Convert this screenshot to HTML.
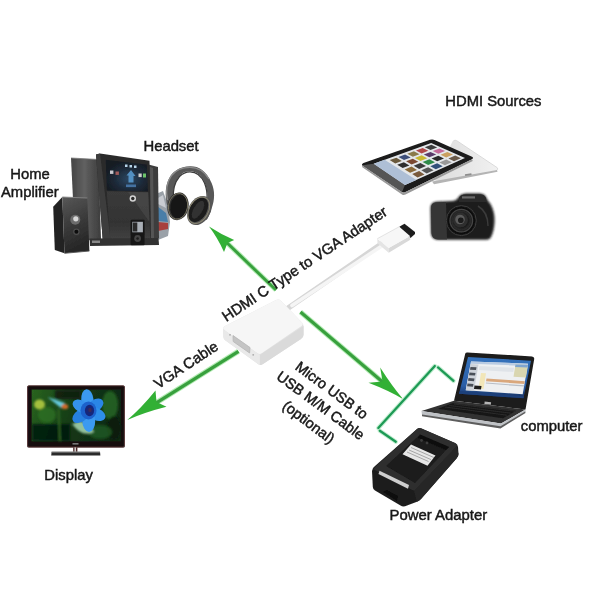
<!DOCTYPE html>
<html><head><meta charset="utf-8">
<style>
html,body{margin:0;padding:0;background:#fff;}
body{width:600px;height:600px;overflow:hidden;}
svg{display:block;}
text{font-family:"Liberation Sans",sans-serif;fill:#161616;}
</style></head><body>
<svg width="600" height="600" viewBox="0 0 600 600">
<defs>
<filter id="b1" x="-10%" y="-10%" width="120%" height="120%"><feGaussianBlur stdDeviation="0.55"/></filter>
<filter id="b2" x="-10%" y="-10%" width="120%" height="120%"><feGaussianBlur stdDeviation="1.1"/></filter>
<filter id="b3" x="-20%" y="-20%" width="140%" height="140%"><feGaussianBlur stdDeviation="2.2"/></filter>
<filter id="bt" x="-5%" y="-5%" width="110%" height="110%"><feGaussianBlur stdDeviation="0.35"/></filter>
<linearGradient id="gAmp" x1="0" y1="0" x2="1" y2="0"><stop offset="0" stop-color="#454545"/><stop offset="0.45" stop-color="#606060"/><stop offset="1" stop-color="#3c3c3c"/></linearGradient>
<linearGradient id="gAmp2" x1="0" y1="0" x2="0" y2="1"><stop offset="0" stop-color="#3a3a3a"/><stop offset="0.6" stop-color="#333"/><stop offset="1" stop-color="#444"/></linearGradient>
<linearGradient id="gSpk" x1="0" y1="0" x2="0.25" y2="1"><stop offset="0" stop-color="#585858"/><stop offset="0.5" stop-color="#3c3c3c"/><stop offset="1" stop-color="#262626"/></linearGradient>
<radialGradient id="gScr" cx="0.55" cy="0.6" r="0.6"><stop offset="0" stop-color="#2c4763"/><stop offset="0.6" stop-color="#1c2836"/><stop offset="1" stop-color="#161b22"/></radialGradient>
<linearGradient id="gTab" x1="0" y1="0" x2="1" y2="0"><stop offset="0" stop-color="#dcdcdc"/><stop offset="1" stop-color="#f1f1f1"/></linearGradient>
<radialGradient id="gLens" cx="0.5" cy="0.5" r="0.5"><stop offset="0" stop-color="#3a3a3a"/><stop offset="0.35" stop-color="#101010"/><stop offset="0.6" stop-color="#2c2c2c"/><stop offset="0.8" stop-color="#0c0c0c"/><stop offset="1" stop-color="#1d1d1d"/></radialGradient>
<linearGradient id="gTv" x1="0" y1="0" x2="1" y2="0.2"><stop offset="0" stop-color="#2a6420"/><stop offset="0.3" stop-color="#1c4c1a"/><stop offset="0.6" stop-color="#133616"/><stop offset="1" stop-color="#0e2a12"/></linearGradient>
<radialGradient id="gFl" cx="0.5" cy="0.5" r="0.5"><stop offset="0" stop-color="#1c3f9a"/><stop offset="0.45" stop-color="#2f86e0"/><stop offset="0.85" stop-color="#4aa3ee"/><stop offset="1" stop-color="#4aa3ee" stop-opacity="0"/></radialGradient>
<linearGradient id="gLap" x1="0" y1="0" x2="0" y2="1"><stop offset="0" stop-color="#3573bd"/><stop offset="0.7" stop-color="#2a5da6"/><stop offset="1" stop-color="#16305e"/></linearGradient>
<linearGradient id="gPa" x1="0" y1="0" x2="1" y2="1"><stop offset="0" stop-color="#3a3a3a"/><stop offset="1" stop-color="#1c1c1c"/></linearGradient>
</defs>
<rect width="600" height="600" fill="#fff"/>

<!-- ARROWS -->
<g id="arrows" filter="url(#b1)">
 <g stroke="#b4ecb4" fill="none" stroke-linecap="butt">
  <line x1="276" y1="290" x2="222" y2="238" stroke-width="5"/>
  <line x1="238.500" y1="351.300" x2="150" y2="406.800" stroke-width="5.400"/>
  <line x1="300.500" y1="312" x2="392" y2="390" stroke-width="5"/>
 </g>
 <g stroke="#38a03e" fill="none" stroke-linecap="butt">
  <line x1="276" y1="290" x2="222" y2="238" stroke-width="2.900"/>
  <line x1="238.500" y1="351.300" x2="150" y2="406.800" stroke-width="3.300"/>
  <line x1="300.500" y1="312" x2="392" y2="390" stroke-width="3"/>
 </g>
 <g fill="#33b035">
  <path d="M209.0 226.5 Q220.1 233.9 234.2 240.0 L227.5 243.0 L224.0 252.0 Q217.3 237.2 209.0 226.5 Z"/>
  <path d="M127.3 420.0 Q141.6 407.8 155.5 390.5 L156.5 402.0 L166.5 406.8 Q144.7 412.3 127.3 420.0 Z"/>
  <path d="M403.2 399.2 Q392.2 386.5 380.2 367.5 L382.5 381.5 L368.5 382.8 Q389.0 390.7 403.2 399.2 Z"/>
 </g>
 <g stroke="#c4eed2" stroke-width="4.400" fill="none" stroke-linecap="round">
  <line x1="378.300" y1="428" x2="434.800" y2="366"/>
  <line x1="438" y1="367.400" x2="453.500" y2="380.800"/>
  <line x1="379.800" y1="430.700" x2="395.800" y2="441.700"/>
 </g>
 <g stroke="#1f9a55" stroke-width="2.300" fill="none" stroke-linecap="round">
  <line x1="378.300" y1="428" x2="434.800" y2="366"/>
  <line x1="438" y1="367.400" x2="453.500" y2="380.800"/>
  <line x1="379.800" y1="430.700" x2="395.800" y2="441.700"/>
 </g>
</g>

<!-- HDMI-VGA ADAPTER -->
<g id="adapter" filter="url(#b1)">
 <path d="M286 309.500 L382 243.500" stroke="#d6d6d6" stroke-width="5.200" fill="none" stroke-linecap="round"/>
 <path d="M292 305.5 L384 244.5" stroke="#f5f5f5" stroke-width="3.6" fill="none" stroke-linecap="round"/>
 <path d="M399.300 226.700 L404.500 223.800 L415 232 L415 234 L410.500 238 L399.300 229 Z" fill="#1c1c1c"/>
 <path d="M377.300 238.700 L388.700 248 L388.700 252.800 L377.500 243.200 Z" fill="#e4e4e4"/>
 <path d="M388.700 248 L410 236 L410.300 239.800 L388.700 252.800 Z" fill="#d9d9d9"/>
 <path d="M377.300 238.700 L399.300 226.700 L410 236 L388.700 248 Z" fill="#f7f7f7"/>
 <path d="M377.300 238.700 L399.300 226.700" stroke="#dcdcdc" stroke-width="0.800" fill="none"/>
 <!-- box -->
 <path d="M223.2 329 Q223 327 225 326 L276 300 Q278.7 298.6 281 300.8 L302 322.5 Q303.5 324 303.5 326 L303.5 335 Q303.5 337.5 301 339 L263 364 Q260.4 365.8 258 364 L225.5 340.5 Q223.5 339 223.4 337 Z" fill="#e2e2e2"/>
 <path d="M223.2 328.5 Q223 327 225 326 L276 300 Q278.7 298.6 281 300.8 L302 322.5 Q303.8 324.3 301.5 326 L262 353 Q259.5 354.8 257.5 353.3 L225 330.5 Z" fill="#f6f6f6"/>
 <path d="M259.8 355 L303.5 326 L303.5 335 Q303.5 337.5 301 339 L263 364 Q261 365.3 259.8 365 Z" fill="#dadada"/>
 <path d="M223.3 329.5 L259.8 355 L259.8 365 Q258.5 364.5 258 364 L225.5 340.5 Q223.5 339 223.4 337 Z" fill="#e9e9e9"/>
 <path d="M233 335.5 L250 347.5 L249.6 353 L233.2 341.5 Z" fill="#c4c4c4" stroke="#b5b5b5" stroke-width="0.8"/>
 <circle cx="230" cy="334.8" r="0.9" fill="#aaa"/><circle cx="253.2" cy="354.8" r="0.9" fill="#aaa"/>
</g>

<!-- HOME AMPLIFIER -->
<g id="amp" filter="url(#b1)">
 <!-- disc / colourful thing right -->
 <path d="M156 194 L163 191 L168 205 L170 222 L168 236 L158 240 Z" fill="#9aa1a8"/>
 <path d="M157 206 L166 213 L168 222 L158 221 Z" fill="#4a7ea8"/>
 <path d="M158 222 L168 223 L168 229 L158 231 Z" fill="#a8413e"/>
 <path d="M158 198 L163 195 L166 208 L158 204 Z" fill="#c9ccd2"/>
 <!-- right thin panel -->
 <path d="M148.500 164.500 L158 167 L159 238 L150 241 Z" fill="#3e3e3e"/>
 <path d="M150 167 L153 168 L154 238 L151 239 Z" fill="#555"/>
 <!-- left speaker panel -->
 <path d="M71 158 L98.500 159.500 L101 240 L75 240.500 Z" fill="url(#gAmp)"/>
 <path d="M71 158 L98.500 159.500" stroke="#777" stroke-width="0.8"/>
 <!-- main unit -->
 <path d="M96 154.500 L100 153.600 L149.500 160.800 L151 243 L108 245 L103 243 Z" fill="#2b2b2b"/>
 <path d="M96 154.500 L100 153.600 L111 243.500 L103 243 Z" fill="#3d3d3d"/>
 <path d="M105.700 159.700 L146.800 164.500 L148 191.600 L106.800 190.500 Z" fill="url(#gScr)"/>
 <path d="M106.800 191.300 L148.200 192.300 L150.500 242.500 L110.500 243.500 Z" fill="url(#gAmp2)"/>
 <path d="M128 192 L148.200 192.300 L149.500 222 Z" fill="#555" opacity="0.45"/>
 <circle cx="132.800" cy="198.500" r="3.200" fill="#d5d5d5"/><circle cx="132.800" cy="198.500" r="1.700" fill="#2a2a2a"/>
 <g filter="url(#bt)">
  <rect x="110" y="170.500" width="3.400" height="3.400" fill="#c9c9d0"/><rect x="115.500" y="171.500" width="3.400" height="3.400" fill="#a05a5a"/>
  <rect x="125" y="164.500" width="2.500" height="2.500" fill="#b8d6ea"/><rect x="129.500" y="165" width="2.500" height="2.500" fill="#b8d6ea"/><rect x="134" y="165.500" width="2.500" height="2.500" fill="#b8d6ea"/>
  <path d="M126.500 175.500 L131 170 L135.500 176 L133.500 176 L133.500 182.500 L128.500 182.500 L128.500 175.500 Z" fill="#5a9fd6" opacity="0.85"/>
  <rect x="126" y="184.500" width="10" height="2.600" fill="#4a7cb0" opacity="0.85"/>
  <rect x="138.500" y="173.500" width="3.200" height="3.600" fill="#d0d0d0"/>
  <rect x="143" y="173.500" width="3" height="4" fill="#6cc46a"/>
 </g>
 <!-- base -->
 <path d="M89.500 238.500 L158.500 238 L159 245 L90 246 Z" fill="#333"/>
 <path d="M92 240.500 L100 240.500 L100 243 L92 243 Z" fill="#888"/>
 <!-- ipod dock -->
 <rect x="130.600" y="219.800" width="14" height="25.500" rx="1.200" fill="#151515"/>
 <rect x="132.300" y="221.800" width="10.600" height="10.500" fill="#a9afb6"/>
 <rect x="132.800" y="222.500" width="4.500" height="9" fill="#2b2b2b"/>
 <circle cx="137.600" cy="238.500" r="3.400" fill="#444"/><circle cx="137.600" cy="238.500" r="1.300" fill="#1c1c1c"/>
 <!-- small speaker -->
 <path d="M62.300 197 L53.200 206.800 L54.800 250 L64.500 253.300 Z" fill="#242424"/>
 <path d="M62.300 197 L87.300 198 L89.400 251 L64.500 253.300 Z" fill="url(#gSpk)"/>
 <path d="M62.300 197 L87.300 198" stroke="#858585" stroke-width="0.9"/>
 <path d="M64.500 253.300 L89.400 251" stroke="#555" stroke-width="0.9"/>
 <circle cx="75.300" cy="219.800" r="5" fill="#6c6c6c"/><circle cx="75.800" cy="218.800" r="2.600" fill="#d8d8d8"/>
 <circle cx="76.400" cy="231.700" r="3.200" fill="#4d4d4d"/><circle cx="76.400" cy="231.700" r="2" fill="#0e0e0e"/>
</g>

<!-- HEADSET -->
<g id="headset" filter="url(#b1)">
 <path d="M167 205 C165 196 165 186 169.200 178.300 C173 171 180 166.800 190 166.300 C198 166 206 170 211.700 183.300 C215 191 214.800 200 211.700 208.300 C210.500 212.500 208.500 217 206.700 220 L202 214 C206 208 207.800 203 207.500 196 C207.200 188 204.500 180 200 175.500 C197 172.500 193.500 171.300 190 171.300 C186 171.300 183.500 172.200 181 174.500 C177 178.500 175.200 183 173.800 189 C172.800 194 173 199 174 203 Z" fill="#585858"/>
 <path d="M167.500 200 C165.500 190 167.500 181 171.500 175.500 C176 169.500 183 167.300 190 167.300 C197 167.300 204 170.500 209 179" fill="none" stroke="#8c8c8c" stroke-width="1.300"/>
 <path d="M173.500 198 C172.800 190 175 182 179.500 176.500 C183 172.800 187 171.800 190 171.800 C196 171.800 201 175 204.500 183 C206.500 188 207.300 194 207 199" fill="none" stroke="#3a3a3a" stroke-width="1.200"/>
 <g transform="translate(178,206.300) rotate(10)"><ellipse rx="10.600" ry="14" fill="#303030"/><ellipse rx="8.300" ry="11.800" cx="0.800" fill="#131313"/><ellipse rx="9.500" ry="13" fill="none" stroke="#77735f" stroke-width="0.900"/></g>
 <g transform="translate(199.300,210.500) rotate(30)"><ellipse rx="11" ry="15.500" fill="#555"/><ellipse rx="8.600" ry="13.200" cx="-1.200" fill="#1b1b1b"/><ellipse rx="4.500" ry="10" cx="-1.500" fill="#303030"/><ellipse rx="9.600" ry="14.200" cx="-0.600" fill="none" stroke="#8b8772" stroke-width="0.900"/></g>
</g>

<!-- TABLETS -->
<g id="tablets" filter="url(#b1)">
 <path d="M433 180 L452.500 141.500 Q454 139.500 456.500 140.500 L497 167.500 Q499 169.300 496.500 170.300 L440 181.800 Z" fill="url(#gTab)"/>
 <path d="M453.500 140.800 Q455 139.800 456.500 140.500 L497 167.500 Q499 169.300 496.500 170.300" fill="none" stroke="#d4d4d4" stroke-width="0.8"/>
 <path d="M432 181.500 L497 170 L497.500 171.800 L434 184.200 Z" fill="#b4b4b4"/>
 <rect x="465" y="173.800" width="6.500" height="1.800" fill="#8d8d8d" transform="rotate(-10 468 174.700)"/>
 <path d="M362 165.300 Q361.500 163.800 363.500 163 L430 139.800 Q432.500 139 434.500 140 L472 156.800 Q474 158 472 159.300 L405.500 192 Q403.500 193 402 192 Z" fill="#1a1a1a"/>
 <path d="M362 165.300 L373.700 163.700 L405 185 L402 192 Z" fill="#555"/>
 <path d="M362 165.300 L402 192 Q403.500 193 405.500 192 L472 159.300 L472.800 161 L405.500 194.600 Q403.500 195.500 402 194.400 L362.300 167.300 Z" fill="#9a9a9a"/>
 <path d="M373.700 163.700 L431.200 143 L465 158 L405 185 Z" fill="#e4e7ea"/>
 <path d="M373.7 163.7 L384.6 159.8 L416.4 179.9 L405.0 185.0 Z" fill="#aebfd6"/>
 <g filter="url(#bt)">
 <path d="M389.7 160.1 L396.4 157.7 L401.8 160.9 L395.2 163.5 Z" fill="#6b5a3c"/>
 <path d="M398.5 156.9 L405.1 154.5 L410.7 157.6 L404.0 160.1 Z" fill="#3c4f7a"/>
 <path d="M407.3 153.7 L413.9 151.3 L419.5 154.2 L412.8 156.7 Z" fill="#8a7a4a"/>
 <path d="M416.0 150.5 L422.7 148.0 L428.3 150.8 L421.6 153.4 Z" fill="#b0484a"/>
 <path d="M424.8 147.3 L431.4 144.8 L437.2 147.4 L430.5 150.0 Z" fill="#3c3c3c"/>
 <path d="M397.2 164.8 L403.9 162.2 L409.4 165.4 L402.7 168.1 Z" fill="#2e2e2e"/>
 <path d="M406.1 161.3 L412.8 158.7 L418.3 161.8 L411.6 164.5 Z" fill="#7a4a30"/>
 <path d="M414.9 157.9 L421.6 155.3 L427.2 158.2 L420.5 160.9 Z" fill="#c8b832"/>
 <path d="M423.8 154.5 L430.5 151.9 L436.2 154.6 L429.4 157.3 Z" fill="#5a3a6a"/>
 <path d="M432.7 151.0 L439.4 148.4 L445.1 151.0 L438.3 153.7 Z" fill="#c46a9a"/>
 <path d="M404.7 169.4 L411.5 166.6 L417.0 169.9 L410.1 172.8 Z" fill="#8a6a3a"/>
 <path d="M413.7 165.8 L420.4 163.0 L426.0 166.1 L419.2 169.0 Z" fill="#3a3a3a"/>
 <path d="M422.6 162.1 L429.4 159.3 L435.0 162.2 L428.2 165.1 Z" fill="#2f8a4a"/>
 <path d="M431.6 158.4 L438.3 155.7 L444.0 158.4 L437.2 161.3 Z" fill="#2a2a2a"/>
 <path d="M440.5 154.8 L447.3 152.0 L453.0 154.6 L446.2 157.5 Z" fill="#caa060"/>
 <path d="M412.2 174.1 L419.1 171.1 L424.5 174.4 L417.6 177.4 Z" fill="#7a5a3a"/>
 <path d="M421.3 170.2 L428.1 167.2 L433.6 170.3 L426.7 173.4 Z" fill="#555"/>
 <path d="M430.3 166.3 L437.1 163.3 L442.7 166.3 L435.8 169.3 Z" fill="#30507a"/>
 <path d="M439.3 162.4 L446.2 159.5 L451.8 162.2 L444.9 165.3 Z" fill="#999"/>
 <path d="M448.4 158.5 L455.2 155.6 L460.9 158.2 L454.0 161.2 Z" fill="#6a5a4a"/>
 </g>
</g>

<!-- CAMERA -->
<g id="camera">
 <g filter="url(#b2)">
  <path d="M430.500 209 Q430 202.500 436 201.800 L452 201 Q456 201 458 198 Q460 193.800 466 193.500 L480 193.600 Q485 194 486.500 198 Q488 201.500 490.500 204 Q495 212 494.500 222 Q494 232 490.500 238 Q489 240 484 239.800 L438 239.800 Q431.500 239.500 431 233 Z" fill="#1b1b1b"/>
 </g>
 <g filter="url(#b1)">
  <path d="M431 209 Q430.500 203 436 202.300 L446 202 L447 239.500 L438 239.500 Q432 239.300 431.500 233 Z" fill="#353535"/>
  <path d="M459 198 Q460.500 194.500 466 194.200 L480 194.300 Q484.500 194.600 486 198 L486.500 202 L459 202 Z" fill="#2c2c2c"/>
  <rect x="462" y="196.300" width="13" height="2.200" fill="#6a6a6a"/>
  <circle cx="461.300" cy="220.600" r="15.600" fill="url(#gLens)"/>
  <circle cx="461.300" cy="220.600" r="15" fill="none" stroke="#3c3c3c" stroke-width="1"/>
  <circle cx="461.300" cy="220.600" r="11.300" fill="none" stroke="#454545" stroke-width="1.300"/>
  <circle cx="460.500" cy="220" r="7.500" fill="#2d2d2d"/>
  <circle cx="460" cy="219.500" r="4.800" fill="#5b5b5b"/>
  <circle cx="460.800" cy="220.300" r="2.800" fill="#1a1a1a"/>
  <path d="M478 206 Q488 212 488 226" stroke="#3a3a3a" stroke-width="1.500" fill="none"/>
 </g>
</g>

<!-- TV -->
<g id="tv" filter="url(#b1)">
 <rect x="27.200" y="385.400" width="97.600" height="62" rx="1.500" fill="#151011"/>
 <rect x="27.600" y="385.800" width="96.800" height="61.200" rx="1.500" fill="none" stroke="#6a3a3a" stroke-width="0.700"/>
 <rect x="31.700" y="389.600" width="89.200" height="51.700" fill="url(#gTv)"/>
 <g filter="url(#b2)">
  <rect x="32" y="424" width="38" height="17" fill="#07140a" opacity="0.85"/>
  <rect x="55" y="390" width="26" height="9" fill="#0a1c0c" opacity="0.8"/>
  <ellipse cx="39.500" cy="404.500" rx="5.500" ry="5" fill="#a4bf3c"/>
  <ellipse cx="47" cy="415" rx="9" ry="8" fill="#2f7424" opacity="0.7"/>
  <path d="M47.500 397 L65 403 L61 408 Z" fill="#63c9dc"/>
  <ellipse cx="64.800" cy="406.500" rx="3.400" ry="2.600" fill="#cf6a28"/>
  <path d="M58.500 409 L60 441" stroke="#356b26" stroke-width="1.600"/>
  <ellipse cx="110" cy="405" rx="8" ry="14" fill="#2a6e2a" opacity="0.75"/>
  <ellipse cx="114" cy="428" rx="7" ry="12" fill="#081a0b" opacity="0.85"/>
  <ellipse cx="100" cy="432" rx="12" ry="7" fill="#1e5a24" opacity="0.8"/>
  <path d="M72 424 Q82 438 94 432 Q90 424 80 421 Z" fill="#a9d9b4" opacity="0.85"/>
 </g>
 <g filter="url(#b1)">
  <ellipse cx="87.4" cy="400.1" rx="6.2" ry="11.0" transform="rotate(-5 87.4 400.1)" fill="#3a9af0"/>
  <ellipse cx="95.3" cy="405.6" rx="5.8" ry="9.0" transform="rotate(55 95.3 405.6)" fill="#2b86e6"/>
  <ellipse cx="96.5" cy="414.3" rx="6.0" ry="9.5" transform="rotate(115 96.5 414.3)" fill="#2f8fea"/>
  <ellipse cx="88.7" cy="420.9" rx="6.5" ry="11.0" transform="rotate(178 88.7 420.9)" fill="#3a9af0"/>
  <ellipse cx="80.9" cy="415.7" rx="6.0" ry="9.5" transform="rotate(235 80.9 415.7)" fill="#2680e0"/>
  <ellipse cx="80.9" cy="406.2" rx="5.8" ry="9.0" transform="rotate(300 80.9 406.2)" fill="#3492ee"/>
  <ellipse cx="88.500" cy="410.500" rx="8" ry="9" fill="#1e62cc"/>
  <ellipse cx="89.500" cy="410.500" rx="4.600" ry="5.800" fill="#15267a"/>
  <ellipse cx="90" cy="410" rx="1.800" ry="2.300" fill="#3a2a5a"/>
 </g>
 <rect x="72.500" y="443.200" width="6" height="1.300" fill="#8d8d8d"/>
 <rect x="73.200" y="447.400" width="4.200" height="5" fill="#4a2626"/>
 <rect x="74.500" y="447.400" width="1.400" height="5" fill="#ddd"/>
 <path d="M51.600 451.800 L100 451.800 L100.400 455.400 L51.200 455.400 Z" fill="#2c2c2c"/>
 <path d="M51.600 452 L100 452" stroke="#a5a5a5" stroke-width="0.900"/>
</g>

<!-- LAPTOP -->
<g id="laptop" filter="url(#b1)">
 <path d="M465.300 353.600 Q465.600 352.300 467.500 352.400 L532 356.500 Q534.500 356.800 534.200 359 L525.500 409.500 L454 400.800 Z" fill="#1a1a1a"/>
 <path d="M468 357 L531 360.700 L523.500 398.200 L459 393.700 Z" fill="url(#gLap)"/>
 <path d="M471 361.500 L528 363.700 L522.700 394.200 L465.700 390.200 Z" fill="#eef0f2"/>
 <path d="M471 361.500 L528 363.700 L527.600 366 L470.600 363.700 Z" fill="#b9cbe2"/>
 <path d="M470.500 364 L478.500 364.400 L474 390.800 L465.800 390.200 Z" fill="#cdd2d9"/>
 <g fill="#4a4f58"><path d="M470.500 367 L476.500 367.300 L476 370 L470 369.700 Z"/><path d="M469.500 372.500 L475.500 372.900 L475 375.600 L469 375.200 Z"/><path d="M468.500 378 L474.500 378.400 L474 381.200 L468 380.800 Z"/><path d="M467.500 383.500 L473.500 384 L473 386.800 L467 386.300 Z"/></g>
 <path d="M479.500 366 L514 367.800 L513.300 372 L478.800 370 Z" fill="#dfe3e8"/>
 <path d="M481 373 L486 373.300 L483.500 389 L478.500 388.600 Z" fill="#f2e6b8"/>
 <path d="M486.500 378.500 L524.800 381.200 L524.300 384 L486 381.200 Z" fill="#d9a77c"/>
 <path d="M486 382.500 L524.200 385.300 L524 386.500 L485.800 383.600 Z" fill="#b9bec6"/>
 <path d="M515.500 364.500 L528 365 L526 377.500 L513.500 376.800 Z" fill="#d9d6b0"/>
 <path d="M515.500 364.500 L528 365 L527.600 367.500 L515.100 367 Z" fill="#7fa5d0"/>
 <path d="M474.500 385.500 L481.500 386 L481 389.600 L474 389.100 Z" fill="#1c1c1c"/>
 <path d="M459.800 391 L523.900 396.200 L523.500 398.200 L459 393.700 Z" fill="#1d3f7a"/>
 <rect x="484.500" y="401.800" width="6.500" height="2.600" fill="#b5b5b5" transform="rotate(6.500 487.500 403)"/>
 <!-- base -->
 <path d="M454 400.800 L525.500 409.500 L501 423.600 L421.500 411 Z" fill="#303030"/>
 <path d="M452.500 403.200 L516 410.800 L503 418.200 L438 408.800 Z" fill="#151515"/>
 <path d="M454 404 L515 411.300 M449.500 405.500 L511 413.200 M445 407 L507 415.200" stroke="#3a3a3a" stroke-width="0.600" fill="none"/>
 <path d="M421.500 411 L501 423.600 L525.500 409.500 L525.500 412 L500.500 427 L422 415.200 Z" fill="#bfc2c6"/>
 <path d="M422 414.500 L500.500 426.300 L525.200 411.500 L525.500 413 L500.500 428.400 L422 416.300 Z" fill="#5d5d5d"/>
</g>

<!-- POWER ADAPTER -->
<g id="power" filter="url(#b1)">
 <path d="M372 471 Q372 468 375 466 L417 429 Q419 427.500 421.500 428.500 L455 443 Q458 444.500 458 447 L458.500 454 Q458.500 456.500 456.500 458.500 L421 499 Q419.500 500.500 417 501.700 L405 506.300 Q402.500 506.800 400.500 505.600 L375 490.500 Q373 489.300 372.800 487 Z" fill="#1f1f1f"/>
 <path d="M373 469 L417 429 Q419 427.500 421.500 428.500 L455 443 Q458 444.500 456 447 L416 489.500 Q414.500 491 412.500 490 Z" fill="#2f2f2f"/>
 <path d="M386 466 L420 434.500 L449 447 L415 483 Z" fill="#1a1a1a"/>
 <path d="M420 434.500 L449 447 L446 450 L418 438 Z" fill="#0e0e0e"/>
 <path d="M411 444.600 L435.500 455.600 L427.500 465.800 L402.500 454.200 Z" fill="#e6e6e6"/>
 <path d="M411 447.500 L434 457.600 M409 450 L431 459.600 M407 452 L428.500 461.500" stroke="#8a8a8a" stroke-width="0.7" fill="none"/>
 <circle cx="421.500" cy="440.500" r="1.400" fill="#3d3d3d"/><circle cx="427" cy="443" r="1.400" fill="#3d3d3d"/>
 <path d="M379.500 470.800 L409 485 L408 488.800 L378.500 474 Z" fill="#cfcfcf"/>
 <path d="M383 492 L387 490 L398 496 L397 501 Z" fill="#0a0a0a"/>
 <path d="M414 490.500 L456.500 446.500 L458.500 454 Q458.500 456.500 456.500 458.500 L421 499 Q419.500 500.500 417 501.700 Z" fill="#272727"/>
</g>

<!-- TEXT -->
<g font-size="14.800" filter="url(#bt)" stroke="#161616" stroke-width="0.450">
 <text x="143.500" y="151">Headset</text>
 <text x="10.300" y="178.600">Home</text>
 <text x="1" y="196.600">Amplifier</text>
 <text x="445.300" y="105.800">HDMI Sources</text>
 <text x="44.300" y="480.400">Display</text>
 <text x="520.800" y="430.700">computer</text>
 <text x="389.500" y="519.600" font-size="14.900">Power Adapter</text>
 <text transform="translate(226.300,322) rotate(-33.600)">HDMI C Type to VGA Adapter</text>
 <text transform="translate(158.200,389.300) rotate(-33.500)">VGA Cable</text>
 <text font-size="14.600" transform="translate(294.200,368.700) rotate(36.500)">Micro USB to</text>
 <text font-size="14.600" transform="translate(275.500,378.500) rotate(36.300)">USB M/M Cable</text>
 <text font-size="14.600" transform="translate(281.400,407.700) rotate(37)">(optional)</text>
</g>
</svg>
</body></html>
